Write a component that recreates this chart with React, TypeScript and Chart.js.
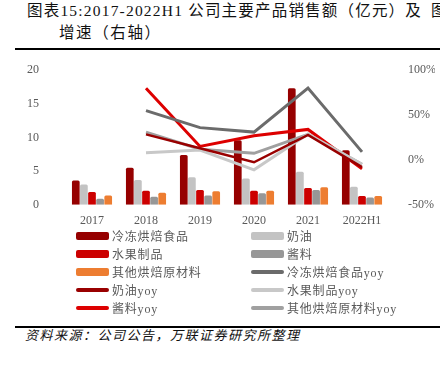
import React, { useEffect, useRef } from "react";
import { Chart, registerables } from "chart.js";

Chart.register(...registerables);

const categories = ["2017", "2018", "2019", "2020", "2021", "2022H1"];
const frozenSales = [3.6, 5.5, 7.4, 9.6, 17.3, 8.1];
const creamSales = [3.0, 3.7, 4.1, 3.9, 4.9, 2.7];
const fruitSales = [1.9, 2.1, 2.2, 2.1, 2.5, 1.3];
const sauceSales = [0.9, 1.2, 1.4, 1.7, 2.2, 1.1];
const otherSales = [1.4, 1.8, 2.0, 2.1, 2.6, 1.3];

const frozenYoy = [null, 55, 36, 31, 80, 9];
const creamYoy = [null, 28.5, 13, -2.6, 28, -8];
const fruitYoy = [null, 8, 11, -11, 29, -5];
const sauceYoy = [null, 80, 15, 27, 34, -10];
const otherYoy = [null, 31, 12, 7.4, 28.5, -5];

const leftTicks = { min: 0, max: 20, step: 5 };
const rightTicks = { min: -50, max: 100, step: 50 };

const barSeries = [
  { label: "冷冻烘焙食品", data: frozenSales, color: "#960000" },
  { label: "奶油", data: creamSales, color: "#c3c3c3" },
  { label: "水果制品", data: fruitSales, color: "#cc0000" },
  { label: "酱料", data: sauceSales, color: "#979797" },
  { label: "其他烘焙原材料", data: otherSales, color: "#ed7d31" },
];
const lineSeries = [
  { label: "冷冻烘焙食品yoy", data: frozenYoy, color: "#6b6b6b", width: 3 },
  { label: "奶油yoy", data: creamYoy, color: "#990000", width: 2.5 },
  { label: "水果制品yoy", data: fruitYoy, color: "#c8c8c8", width: 3 },
  { label: "酱料yoy", data: sauceYoy, color: "#dd0000", width: 3 },
  { label: "其他烘焙原材料yoy", data: otherYoy, color: "#a0a0a0", width: 3 },
];

const FONT = '"Liberation Serif", "Noto Sans CJK SC", serif';

export default function App() {
  const ref = useRef<HTMLCanvasElement>(null);

  useEffect(() => {
    if (!ref.current) return;
    const datasets: any[] = [
      ...barSeries.map((s) => ({
        type: "bar",
        label: s.label,
        data: s.data,
        backgroundColor: s.color,
        yAxisID: "y",
        order: 2,
        borderRadius: 1.5,
        categoryPercentage: 0.75,
        barPercentage: 0.95,
      })),
      ...lineSeries.map((s) => ({
        type: "line",
        label: s.label,
        data: s.data,
        borderColor: s.color,
        backgroundColor: s.color,
        borderWidth: s.width,
        pointRadius: 0,
        tension: 0,
        yAxisID: "y1",
        order: 1,
      })),
    ];
    const tickFont = { family: FONT, size: 12 };
    const chart = new Chart(ref.current, {
      type: "bar",
      data: { labels: categories, datasets },
      options: {
        responsive: false,
        animation: false,
        layout: { padding: 0 },
        plugins: { legend: { display: false }, tooltip: { enabled: false } },
        scales: {
          x: {
            grid: { display: false },
            border: { display: false },
            ticks: { font: tickFont, color: "#595959", padding: 1, maxRotation: 0 },
            afterFit: (s: any) => {
              s.height = 25;
            },
          },
          y: {
            position: "left",
            min: leftTicks.min,
            max: leftTicks.max,
            grid: { display: false },
            border: { display: false },
            ticks: { stepSize: leftTicks.step, font: tickFont, color: "#595959", padding: 18 },
            afterFit: (s: any) => {
              s.width = 45;
            },
          },
          y1: {
            position: "right",
            min: rightTicks.min,
            max: rightTicks.max,
            grid: { display: false },
            border: { display: false },
            ticks: {
              stepSize: rightTicks.step,
              font: tickFont,
              color: "#595959",
              padding: 11,
              callback: (v: any) => v + "%",
            },
            afterFit: (s: any) => {
              s.width = 46;
            },
          },
        },
      } as any,
    });
    return () => chart.destroy();
  }, []);

  const legendItems = [
    ...barSeries.map((s) => ({ label: s.label, color: s.color, kind: "bar" })),
    ...lineSeries.map((s) => ({ label: s.label, color: s.color, kind: "line" })),
  ];

  return (
    <div
      style={{
        position: "fixed",
        left: 0,
        top: 0,
        width: 440,
        height: 368,
        overflow: "hidden",
        background: "#fff",
        fontFamily: FONT,
      }}
    >
      <div
        style={{
          position: "absolute",
          left: 27,
          top: 0,
          lineHeight: "22px",
          fontSize: 15.5,
          letterSpacing: "1.2px",
          color: "#111",
          whiteSpace: "nowrap",
        }}
      >
        图表15:2017-2022H1 公司主要产品销售额（亿元）及
      </div>
      <div
        style={{
          position: "absolute",
          left: 431,
          top: 0,
          lineHeight: "22px",
          fontSize: 15.5,
          color: "#111",
          whiteSpace: "nowrap",
        }}
      >
        图
      </div>
      <div
        style={{
          position: "absolute",
          left: 59,
          top: 22,
          lineHeight: "22px",
          fontSize: 15.5,
          letterSpacing: "1.6px",
          color: "#111",
          whiteSpace: "nowrap",
        }}
      >
        增速（右轴）
      </div>
      <div style={{ position: "absolute", left: 15, top: 48, width: 425, height: 2, background: "#000" }} />
      <canvas
        ref={ref}
        width={415}
        height={185}
        style={{ position: "absolute", left: 20, top: 45, width: 415, height: 185 }}
      />
      {legendItems.map((it, i) => {
        const col = i % 2;
        const row = Math.floor(i / 2);
        const left = col === 0 ? 76 : 251;
        const cy = 236 + row * 18;
        return (
          <div
            key={it.label}
            style={{
              position: "absolute",
              left,
              top: cy - 9,
              height: 18,
              display: "flex",
              alignItems: "center",
              whiteSpace: "nowrap",
            }}
          >
            <div
              style={{
                width: 33,
                height: it.kind === "bar" ? 8 : 3.5,
                background: it.color,
                borderRadius: 2,
                marginRight: 3,
              }}
            />
            <span style={{ fontSize: 12, letterSpacing: "0.8px", color: "#595959" }}>{it.label}</span>
          </div>
        );
      })}
      <div style={{ position: "absolute", left: 15, top: 326, width: 425, height: 2, background: "#000" }} />
      <div
        style={{
          position: "absolute",
          left: 25,
          top: 327,
          lineHeight: "18px",
          fontSize: 13,
          fontStyle: "italic",
          letterSpacing: "1.5px",
          color: "#111",
          whiteSpace: "nowrap",
        }}
      >
        资料来源：公司公告，万联证券研究所整理
      </div>
    </div>
  );
}
